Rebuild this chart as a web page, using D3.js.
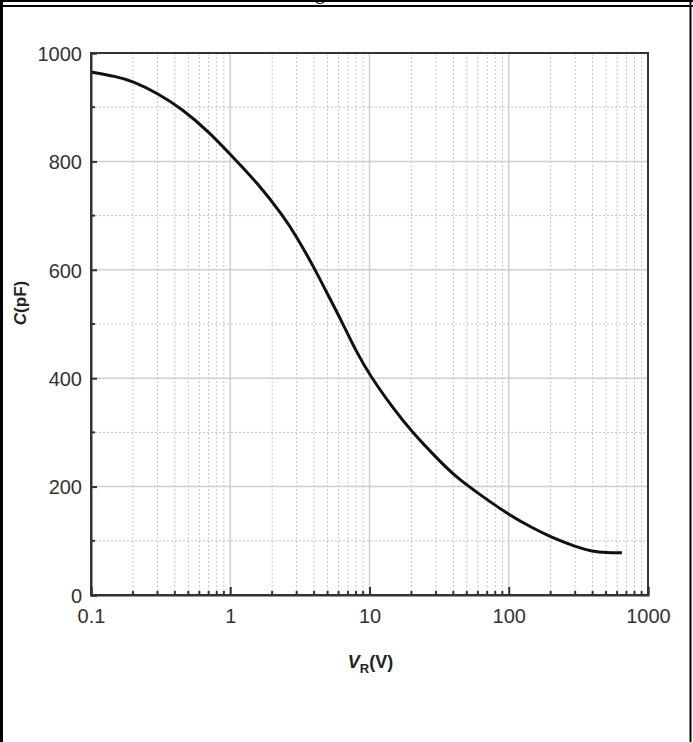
<!DOCTYPE html>
<html>
<head>
<meta charset="utf-8">
<script src="https://cdn.jsdelivr.net/npm/d3@7"></script>
<style>
  body { margin: 0; background: #fff; }
  svg { display: block; }
</style>
</head>
<body>
<svg></svg>
<script>
// reverse voltage (V) and capacitance (pF)
var voltage = [0.1, 0.15, 0.2, 0.3, 0.45, 0.7, 1, 1.6, 2.4, 3, 4, 5, 6.4, 8, 10, 15, 20, 30, 42, 60, 100, 150, 200, 300, 400, 500, 650];
var capacitance = [965, 957, 948, 926, 897, 855, 813, 758, 699, 661, 604, 555, 502, 450, 406, 342, 302, 254, 217, 188, 148, 123, 107, 89, 80, 78, 78];

var yTicks = [0, 200, 400, 600, 800, 1000];
var yMinor = [100, 300, 500, 700, 900];
var xTicks = [0.1, 1, 10, 100, 1000];
var xTickLabels = ["0.1", "1", "10", "100", "1000"];

var screen = {width: 693, height: 742};
var margins = {top: 53, right: 45, bottom: 147, left: 91};

var svg = d3.select("svg")
    .attr("width", screen.width)
    .attr("height", screen.height);

var width = screen.width - margins.left - margins.right;
var height = screen.height - margins.top - margins.bottom;

// page frame
svg.append("line").attr("x1", 0).attr("x2", screen.width).attr("y1", 1).attr("y2", 1)
    .attr("stroke", "#000").attr("stroke-width", 2);
svg.append("line").attr("x1", 0).attr("x2", screen.width).attr("y1", 6).attr("y2", 6)
    .attr("stroke", "#000").attr("stroke-width", 2);
svg.append("line").attr("x1", 1.5).attr("x2", 1.5).attr("y1", 0).attr("y2", screen.height)
    .attr("stroke", "#000").attr("stroke-width", 3);
svg.append("line").attr("x1", 690.5).attr("x2", 690.5).attr("y1", 0).attr("y2", screen.height)
    .attr("stroke", "#000").attr("stroke-width", 2);
// cut-off caption above the frame
svg.append("text").attr("x", 320).attr("y", -1)
    .attr("font-family", "Liberation Serif").attr("font-size", 20)
    .attr("text-anchor", "middle").text("g");

var xScale = d3.scaleLog()
    .domain([0.1, 1000])
    .range([0, width]);

var yScale = d3.scaleLinear()
    .domain([0, 1000])
    .range([height, 0]);

var g = svg.append("g")
    .attr("id", "graph")
    .attr("transform", "translate(" + margins.left + "," + margins.top + ")");

// minor log positions
var xMinor = [];
xTicks.slice(0, -1).forEach(function(d){
    for (var k = 2; k <= 9; k++) xMinor.push(d * k);
});

g.append("g").selectAll("line")
    .data(xMinor)
    .enter().append("line")
    .attr("x1", function(d){ return xScale(d); })
    .attr("x2", function(d){ return xScale(d); })
    .attr("y1", 0).attr("y2", height)
    .attr("stroke", "#c4c4c4").attr("stroke-width", 1)
    .attr("stroke-dasharray", "2,2");

g.append("g").selectAll("line")
    .data(yMinor)
    .enter().append("line")
    .attr("x1", 0).attr("x2", width)
    .attr("y1", function(d){ return yScale(d); })
    .attr("y2", function(d){ return yScale(d); })
    .attr("stroke", "#c4c4c4").attr("stroke-width", 1)
    .attr("stroke-dasharray", "2,2");

g.append("g").selectAll("line")
    .data(xTicks.slice(1, -1))
    .enter().append("line")
    .attr("x1", function(d){ return xScale(d); })
    .attr("x2", function(d){ return xScale(d); })
    .attr("y1", 0).attr("y2", height)
    .attr("stroke", "#cfcfcf").attr("stroke-width", 1.5);

g.append("g").selectAll("line")
    .data(yTicks.slice(1, -1))
    .enter().append("line")
    .attr("x1", 0).attr("x2", width)
    .attr("y1", function(d){ return yScale(d); })
    .attr("y2", function(d){ return yScale(d); })
    .attr("stroke", "#cfcfcf").attr("stroke-width", 1.5);

// curve
var points = voltage.map(function(v, i){ return [v, capacitance[i]]; });
g.append("path")
    .datum(points)
    .attr("fill", "none")
    .attr("stroke", "#111")
    .attr("stroke-width", 3)
    .attr("d", d3.line()
        .x(function(d){ return xScale(d[0]); })
        .y(function(d){ return yScale(d[1]); })
        .curve(d3.curveBasis));

// frame
g.append("rect")
    .attr("x", 0).attr("y", 0)
    .attr("width", width).attr("height", height)
    .attr("fill", "none").attr("stroke", "#333").attr("stroke-width", 2);

// axes with inward ticks
var xAxis = d3.axisBottom(xScale)
    .tickValues(xTicks)
    .tickFormat(function(d, i){ return xTickLabels[i]; })
    .tickSize(-8)
    .tickPadding(14);

var yAxis = d3.axisLeft(yScale)
    .tickValues(yTicks)
    .tickFormat(d3.format("d"))
    .tickSize(-6)
    .tickPadding(9);

var xg = g.append("g")
    .attr("id", "xAxis")
    .attr("transform", "translate(0," + height + ")")
    .call(xAxis);

var yg = g.append("g")
    .attr("id", "yAxis")
    .call(yAxis);

[xg, yg].forEach(function(a){
    a.select(".domain").attr("stroke", "#333").attr("stroke-width", 2);
    a.selectAll(".tick line").attr("stroke", "#333").attr("stroke-width", 2);
    a.selectAll(".tick text")
        .attr("fill", "#333")
        .attr("font-family", "Liberation Sans, Arial, sans-serif")
        .attr("font-size", 20);
});
yg.selectAll(".tick text").attr("dy", "0.36em");

// minor ticks
xg.selectAll(".minor")
    .data(xMinor)
    .enter().append("line")
    .attr("class", "minor")
    .attr("x1", function(d){ return xScale(d); })
    .attr("x2", function(d){ return xScale(d); })
    .attr("y1", 0).attr("y2", -4)
    .attr("stroke", "#333").attr("stroke-width", 2);

yg.selectAll(".minor")
    .data(yMinor)
    .enter().append("line")
    .attr("class", "minor")
    .attr("y1", function(d){ return yScale(d); })
    .attr("y2", function(d){ return yScale(d); })
    .attr("x1", 0).attr("x2", 4)
    .attr("stroke", "#333").attr("stroke-width", 2);

// axis titles
var xLabel = svg.append("text")
    .attr("x", margins.left + width / 2 + 1)
    .attr("y", 668)
    .attr("text-anchor", "middle")
    .attr("font-family", "Liberation Sans, Arial, sans-serif")
    .attr("font-size", 18)
    .attr("font-weight", "bold")
    .attr("fill", "#222");
xLabel.append("tspan").attr("font-style", "italic").text("V");
xLabel.append("tspan").attr("font-size", 13).attr("dy", 5).text("R");
xLabel.append("tspan").attr("dy", -5).text("(V)");

var yLabel = svg.append("text")
    .attr("transform", "translate(26,303) rotate(-90)")
    .attr("text-anchor", "middle")
    .attr("font-family", "Liberation Sans, Arial, sans-serif")
    .attr("font-size", 17)
    .attr("font-weight", "bold")
    .attr("fill", "#222");
yLabel.append("tspan").attr("font-style", "italic").text("C");
yLabel.append("tspan").text("(pF)");
</script>
</body>
</html>
